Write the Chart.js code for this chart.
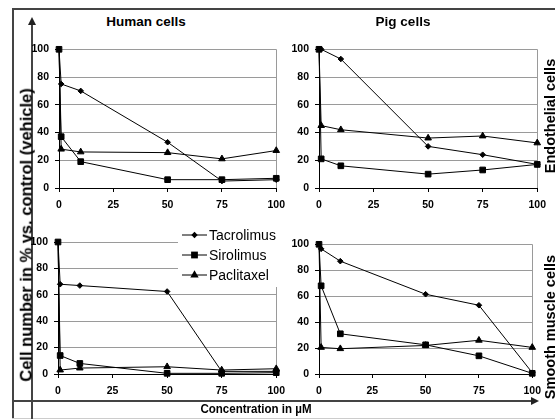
<!DOCTYPE html>
<html>
<head>
<meta charset="utf-8">
<script src="https://cdn.jsdelivr.net/npm/chart.js@4.4.1/dist/chart.umd.min.js"></script>
<style>
    html, body { margin: 0; padding: 0; background: #fff; }
    body { width: 555px; height: 419px; position: relative; overflow: hidden; font-family: 'Liberation Sans', Arial, sans-serif; }
    canvas { position: absolute; }
    .lbl { position: absolute; font-weight: bold; white-space: nowrap; color: #000; line-height: 1; transform: translate(-50%, -50%); }
    .rot { transform: translate(-50%, -50%) rotate(-90deg); }
    .ln { position: absolute; background: #444; }
</style>
</head>
<body>
<!-- frame and axis arrows -->
<div class="ln" style="left:12px;top:8px;width:543px;height:2px;"></div>
<div class="ln" style="left:12px;top:8px;width:2px;height:411px;"></div>
<div class="ln" style="left:12px;top:418px;width:543px;height:1px;background:#ccc;"></div>
<div class="ln" style="left:12px;top:400px;width:521px;height:2px;"></div>
<div style="position:absolute;left:531px;top:397px;width:0;height:0;border-left:8px solid #222;border-top:4px solid transparent;border-bottom:4px solid transparent;"></div>
<div class="ln" style="left:31px;top:24px;width:2px;height:395px;"></div>
<div style="position:absolute;left:28px;top:17px;width:0;height:0;border-bottom:8px solid #222;border-left:4px solid transparent;border-right:4px solid transparent;"></div>

<canvas id="humanEndo" width="273" height="181" style="left:19px;top:37px;"></canvas>
<canvas id="pigEndo" width="274" height="181" style="left:279px;top:37px;"></canvas>
<canvas id="humanSmc" width="274" height="182" style="left:18px;top:222px;"></canvas>
<canvas id="pigSmc" width="269" height="172" style="left:279px;top:232px;"></canvas>

<div class="lbl" style="left:146px;top:22px;font-size:13.5px;">Human cells</div>
<div class="lbl" style="left:403px;top:22px;font-size:13.5px;">Pig cells</div>
<div class="lbl rot" style="left:25.5px;top:235px;font-size:16.5px;">Cell number in % vs. control (vehicle)</div>
<div class="lbl rot" style="left:550px;top:116px;font-size:14.5px;">Endothelial cells</div>
<div class="lbl rot" style="left:550px;top:327px;font-size:14.5px;">Smooth muscle cells</div>
<div class="lbl" style="left:256px;top:409px;font-size:13.5px;transform:translate(-50%,-50%) scaleX(0.855);">Concentration in µM</div>

<script>
// concentrations in µM and axis ticks
const concentrations = [0, 1, 10, 50, 75, 100];
const xTicks = [0, 25, 50, 75, 100];
const yTicks = [0, 20, 40, 60, 80, 100];
const drugNames = ['Tacrolimus', 'Sirolimus', 'Paclitaxel'];
const drugMarkers = ['rectRot', 'rect', 'triangle'];

// cell number in % of control
const humanEndoTacrolimus = [100, 75, 70, 33, 5, 6];
const humanEndoSirolimus = [100, 37, 19, 6, 6, 7];
const humanEndoPaclitaxel = [100, 28, 26, 25.5, 21, 27];

const pigEndoTacrolimus = [100, 100, 93, 30, 24, 17];
const pigEndoSirolimus = [100, 21, 16, 10, 13, 17];
const pigEndoPaclitaxel = [100, 45, 42, 36, 37.5, 32.5];

const humanSmcTacrolimus = [100, 68, 67, 62.5, 2, 2];
const humanSmcSirolimus = [100, 14, 8, 0.5, 0.5, 1];
const humanSmcPaclitaxel = [100, 3, 4.5, 5.5, 3, 4];

const pigSmcTacrolimus = [100, 96.5, 87, 61.5, 53, 1];
const pigSmcSirolimus = [100, 68, 31, 22.5, 14, 0.5];
const pigSmcPaclitaxel = [100, 20.5, 19.5, 22, 26, 20.5];

const gridGrey = '#9a9a9a';
const fontFamily = "'Liberation Sans', Arial, sans-serif";
const markerRadius = { rectRot: 2.8, rect: 4, triangle: 3.8 };
const legendRadius = { rectRot: 3.2, rect: 4.8, triangle: 4.8 };

function drawMarker(ctx, style, x, y, r) {
    ctx.beginPath();
    if (style === 'rect') {
        const s = r * Math.SQRT1_2;
        ctx.rect(x - s, y - s, 2 * s, 2 * s);
    } else if (style === 'rectRot') {
        ctx.moveTo(x - r, y); ctx.lineTo(x, y - r); ctx.lineTo(x + r, y); ctx.lineTo(x, y + r);
    } else {
        const h = r * Math.sqrt(3) / 2;
        ctx.moveTo(x - h, y + r / 2); ctx.lineTo(x, y - r); ctx.lineTo(x + h, y + r / 2);
    }
    ctx.closePath();
    ctx.fill();
}

// legend drawn inside the plot area of the lower left panel
const insideLegend = {
    id: 'insideLegend',
    afterDraw(chart, args, opts) {
        const ctx = chart.ctx;
        const left = chart.chartArea.left + opts.x;
        const top = chart.chartArea.top + opts.y;
        ctx.save();
        ctx.fillStyle = '#fff';
        ctx.fillRect(left, top, opts.width, opts.height);
        chart.data.datasets.forEach((ds, i) => {
            const cy = top + opts.firstRow + i * opts.rowGap;
            ctx.strokeStyle = '#000';
            ctx.lineWidth = 1;
            ctx.beginPath();
            ctx.moveTo(left + opts.lineStart, cy);
            ctx.lineTo(left + opts.lineEnd, cy);
            ctx.stroke();
            ctx.fillStyle = '#000';
            drawMarker(ctx, ds.pointStyle, left + (opts.lineStart + opts.lineEnd) / 2, cy, legendRadius[ds.pointStyle]);
            ctx.font = '14px ' + fontFamily;
            ctx.textBaseline = 'middle';
            ctx.textAlign = 'left';
            ctx.fillText(ds.label, left + opts.textStart, cy + 1);
        });
        ctx.restore();
    }
};

function buildDatasets(series) {
    return series.map((values, i) => ({
        label: drugNames[i],
        data: concentrations.map((c, j) => ({ x: c, y: values[j] })),
        borderColor: '#000',
        backgroundColor: '#000',
        borderWidth: 1,
        pointStyle: drugMarkers[i],
        pointRadius: values.map((v, j) => (j === 0 && i !== 1) ? 0 : markerRadius[drugMarkers[i]]),
        pointBorderWidth: 1,
        tension: 0,
        clip: false
    }));
}

function makePanel(canvasId, series, padTop, padRight, withLegend) {
    const tickFont = { family: fontFamily, size: 10.5, weight: 'bold' };
    return new Chart(document.getElementById(canvasId), {
        type: 'line',
        data: { datasets: buildDatasets(series) },
        plugins: withLegend ? [insideLegend] : [],
        options: {
            responsive: false,
            animation: false,
            layout: { padding: { top: padTop, right: padRight, left: 0, bottom: 0 } },
            plugins: {
                legend: { display: false },
                tooltip: { enabled: false },
                insideLegend: {
                    x: 120, y: -17, width: 108, height: 62,
                    firstRow: 10, rowGap: 20, lineStart: 4, lineEnd: 29, textStart: 31
                }
            },
            scales: {
                x: {
                    type: 'linear', min: 0, max: 100,
                    afterBuildTicks: s => { s.ticks = xTicks.map(v => ({ value: v })); },
                    afterFit: s => { s.height = 30; },
                    grid: {
                        color: c => (c.tick && c.tick.value === 100) ? gridGrey : 'rgba(0,0,0,0)',
                        tickColor: '#000', tickLength: 4
                    },
                    border: { color: '#000', width: 1 },
                    ticks: { font: tickFont, color: '#000', padding: 7, maxRotation: 0, autoSkip: false }
                },
                y: {
                    min: 0, max: 100,
                    afterBuildTicks: s => { s.ticks = yTicks.map(v => ({ value: v })); },
                    afterFit: s => { s.width = 40; },
                    grid: { color: gridGrey, tickColor: '#000', tickLength: 4 },
                    border: { color: '#000', width: 1 },
                    ticks: { font: tickFont, color: '#000', padding: 6, autoSkip: false }
                }
            }
        }
    });
}

makePanel('humanEndo', [humanEndoTacrolimus, humanEndoSirolimus, humanEndoPaclitaxel], 10, 14, false);
makePanel('pigEndo', [pigEndoTacrolimus, pigEndoSirolimus, pigEndoPaclitaxel], 10, 14, false);
makePanel('humanSmc', [humanSmcTacrolimus, humanSmcSirolimus, humanSmcPaclitaxel], 20, 14, true);
makePanel('pigSmc', [pigSmcTacrolimus, pigSmcSirolimus, pigSmcPaclitaxel], 10, 14, false);
</script>
</body>
</html>
